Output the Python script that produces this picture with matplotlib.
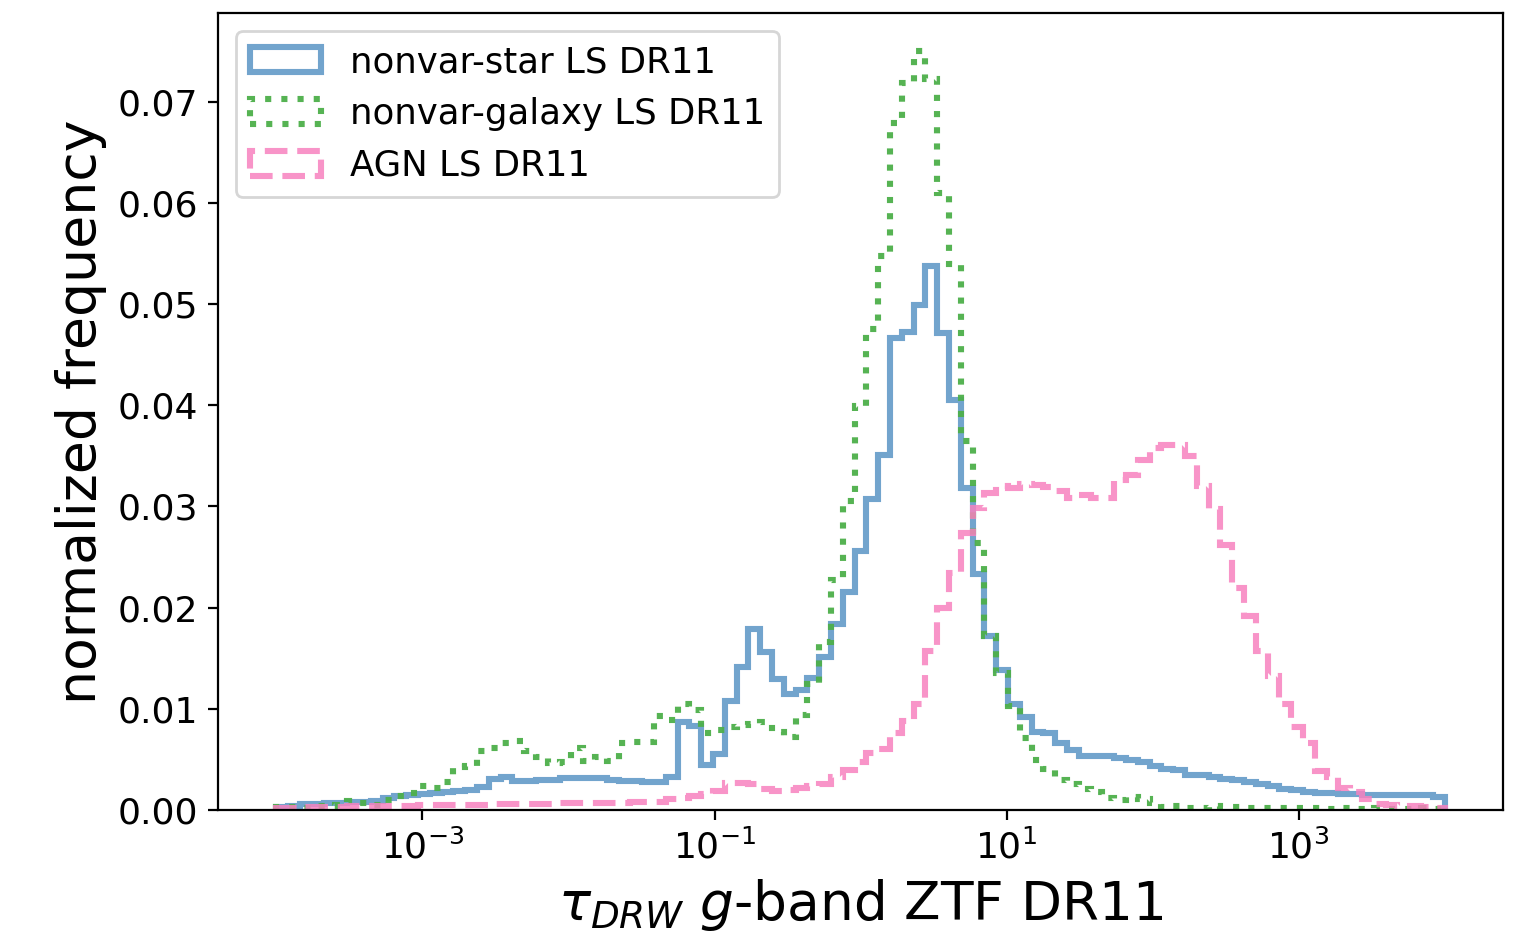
import numpy as np
import matplotlib
matplotlib.use("Agg")
import matplotlib.pyplot as plt
from matplotlib.ticker import FixedLocator, NullLocator, LogFormatterSciNotation

# log-spaced bins for tau_DRW (99 bins between 1e-4 and 1e4)
bin_edges = np.logspace(-4, 4, 100)

# normalized frequency per bin
star_freq = [
    0.0003, 0.0004, 0.0006, 0.0006, 0.0007, 0.0007, 0.0008, 0.0008, 0.0009, 0.0012,
    0.0014, 0.0015, 0.0016, 0.0017, 0.0018, 0.0019, 0.0020, 0.0023, 0.0031, 0.0033,
    0.0029, 0.0029, 0.0030, 0.0030, 0.0032, 0.0032, 0.0032, 0.0032, 0.0030, 0.0029,
    0.0029, 0.0028, 0.0028, 0.0033, 0.0087, 0.0083, 0.0045, 0.0055, 0.0108, 0.0141,
    0.0179, 0.0156, 0.0129, 0.0115, 0.0119, 0.0130, 0.0151, 0.0184, 0.0215, 0.0256,
    0.0307, 0.0351, 0.0466, 0.0472, 0.0499, 0.0538, 0.0471, 0.0405, 0.0318, 0.0233,
    0.0172, 0.0138, 0.0105, 0.0092, 0.0077, 0.0076, 0.0066, 0.0059, 0.0053, 0.0053,
    0.0053, 0.0051, 0.0049, 0.0047, 0.0044, 0.0041, 0.0040, 0.0035, 0.0035, 0.0033,
    0.0031, 0.0030, 0.0028, 0.0026, 0.0024, 0.0021, 0.0020, 0.0018, 0.0017, 0.0017,
    0.0016, 0.0016, 0.0015, 0.0015, 0.0015, 0.0015, 0.0015, 0.0015, 0.0013,
]
galaxy_freq = [
    0.0003, 0.0003, 0.0002, 0.0004, 0.0004, 0.0005, 0.0009, 0.0007, 0.0005, 0.0010,
    0.0014, 0.0017, 0.0024, 0.0022, 0.0028, 0.0043, 0.0044, 0.0058, 0.0061, 0.0066,
    0.0068, 0.0058, 0.0052, 0.0046, 0.0047, 0.0061, 0.0048, 0.0052, 0.0048, 0.0066,
    0.0067, 0.0067, 0.0093, 0.0089, 0.0105, 0.0099, 0.0076, 0.0079, 0.0082, 0.0084,
    0.0085, 0.0087, 0.0077, 0.0072, 0.0094, 0.0125, 0.0166, 0.0227, 0.0305, 0.0399,
    0.0475, 0.0547, 0.0679, 0.0718, 0.0750, 0.0722, 0.0610, 0.0540, 0.0365, 0.0264,
    0.0172, 0.0135, 0.0103, 0.0071, 0.0049, 0.0041, 0.0030, 0.0026, 0.0021, 0.0018,
    0.0012, 0.0010, 0.0013, 0.0011, 0.0007, 0.0003, 0.0004, 0.0002, 0.0002, 0.0004,
    0.0003, 0.0003, 0.0002, 0.0002, 0.0002, 0.0002, 0.0002, 0.0002, 0.0002, 0.0001,
    0.0002, 0.0001, 0.0001, 0.0002, 0.0001, 0.0001, 0.0001, 0.0002, 0.0001,
]
agn_freq = [
    0.0002, 0.0002, 0.0003, 0.0003, 0.0003, 0.0003, 0.0004, 0.0004, 0.0004, 0.0004,
    0.0004, 0.0004, 0.0005, 0.0005, 0.0005, 0.0005, 0.0005, 0.0005, 0.0006, 0.0006,
    0.0006, 0.0006, 0.0006, 0.0006, 0.0007, 0.0007, 0.0007, 0.0007, 0.0007, 0.0007,
    0.0008, 0.0008, 0.0008, 0.0011, 0.0012, 0.0014, 0.0016, 0.0019, 0.0027, 0.0027,
    0.0026, 0.0021, 0.0019, 0.0020, 0.0022, 0.0024, 0.0026, 0.0033, 0.0040, 0.0047,
    0.0056, 0.0060, 0.0076, 0.0088, 0.0105, 0.0157, 0.0200, 0.0234, 0.0274, 0.0298,
    0.0313, 0.0320, 0.0318, 0.0322, 0.0321, 0.0319, 0.0315, 0.0308, 0.0311, 0.0308,
    0.0308, 0.0326, 0.0331, 0.0346, 0.0358, 0.0361, 0.0361, 0.0350, 0.0320, 0.0297,
    0.0262, 0.0219, 0.0192, 0.0157, 0.0132, 0.0105, 0.0082, 0.0066, 0.0039, 0.0033,
    0.0022, 0.0018, 0.0011, 0.0006, 0.0005, 0.0004, 0.0004, 0.0003, 0.0002,
]

labels = ['nonvar-star LS DR11', 'nonvar-galaxy LS DR11', 'AGN LS DR11']

centers = np.sqrt(bin_edges[:-1] * bin_edges[1:])

fig = plt.figure(figsize=(7.63, 4.72), dpi=200)
ax = fig.add_axes([0.1429, 0.1419, 0.842, 0.8443])

ax.hist(centers, bins=bin_edges, weights=star_freq, histtype='step',
        color='#377eb8', alpha=0.7, lw=2.2, ls='-', label=labels[0])
ax.hist(centers, bins=bin_edges, weights=galaxy_freq, histtype='step',
        color='#4daf4a', alpha=0.95, lw=2.2, ls=':', label=labels[1])
ax.hist(centers, bins=bin_edges, weights=agn_freq, histtype='step',
        color='#f781bf', alpha=0.85, lw=2.2, ls='--', label=labels[2])

ax.set_xscale('log')
ax.xaxis.set_major_locator(FixedLocator([1e-3, 1e-1, 1e1, 1e3]))
ax.xaxis.set_major_formatter(LogFormatterSciNotation())
ax.xaxis.set_minor_locator(NullLocator())

ax.tick_params(labelsize=13)
ax.set_xlabel(r'$\tau_{DRW}$ $g$-band ZTF DR11', fontsize=19.2)
ax.set_ylabel('normalized frequency', fontsize=19.3)
ax.legend(loc='upper left', fontsize=12.8)

fig.savefig('out.png', dpi=200)
